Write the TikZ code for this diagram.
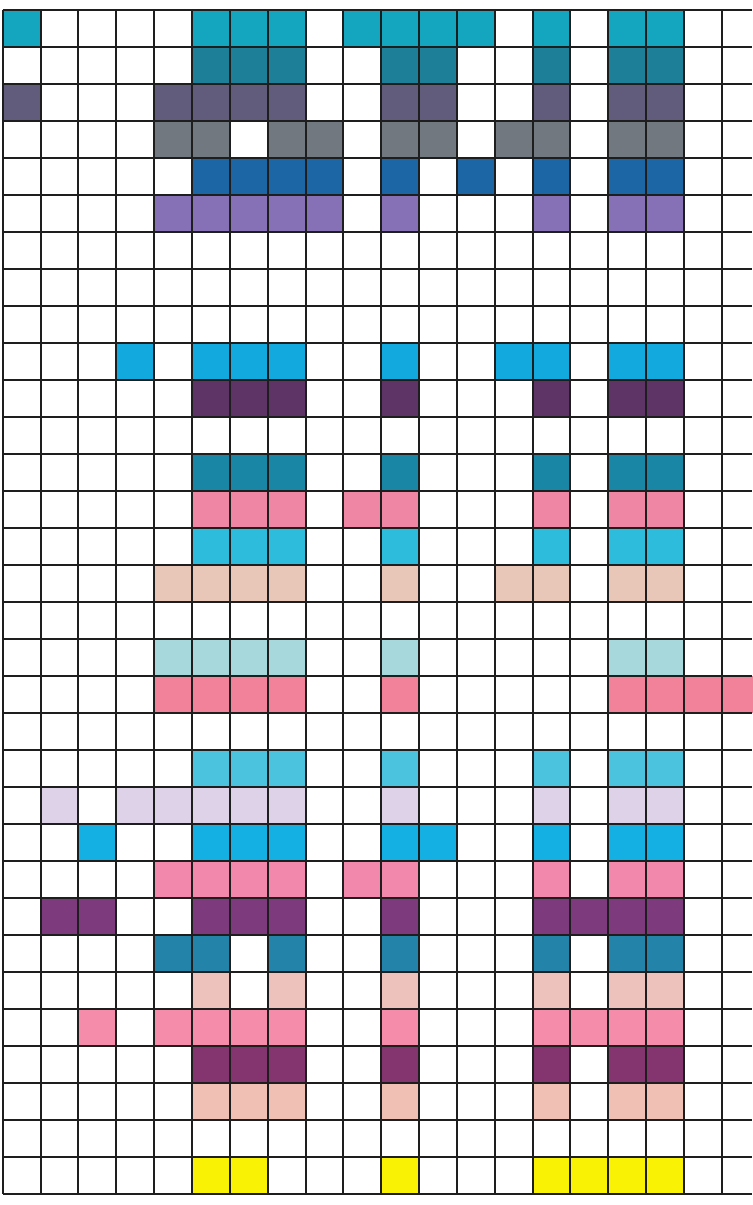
\documentclass[tikz,border=0pt]{standalone}
\definecolor{r0}{HTML}{14A6BE}
\definecolor{r1}{HTML}{1D8098}
\definecolor{r2}{HTML}{625C7C}
\definecolor{r3}{HTML}{717880}
\definecolor{r4}{HTML}{1D66A6}
\definecolor{r5}{HTML}{8670B6}
\definecolor{r9}{HTML}{12A9DE}
\definecolor{r10}{HTML}{5E3467}
\definecolor{r12}{HTML}{1A86A6}
\definecolor{r13}{HTML}{EE86A4}
\definecolor{r14}{HTML}{2EBCDC}
\definecolor{r15}{HTML}{E8C6B8}
\definecolor{r17}{HTML}{A6D8DC}
\definecolor{r18}{HTML}{F28299}
\definecolor{r20}{HTML}{4CC3DE}
\definecolor{r21}{HTML}{DED2E8}
\definecolor{r22}{HTML}{14B0E3}
\definecolor{r23}{HTML}{F289AC}
\definecolor{r24}{HTML}{7D3A7C}
\definecolor{r25}{HTML}{2483A8}
\definecolor{r26}{HTML}{EEC2BC}
\definecolor{r27}{HTML}{F48CAA}
\definecolor{r28}{HTML}{84346F}
\definecolor{r29}{HTML}{F0C0B4}
\definecolor{r31}{HTML}{FAF205}
\definecolor{gridline}{HTML}{1E1E1E}
\tikzset{gridrule/.style={draw=gridline, line width=1pt}}
\begin{document}
\begin{tikzpicture}[x=0.5pt,y=-0.5pt]
\useasboundingbox (0,0) rectangle (752,1205);
\fill[white] (0,0) rectangle (752,1205);
\foreach \r/\col/\list in {
  0/r0/{0,5,6,7,9,10,11,12,14,16,17},
  1/r1/{5,6,7,10,11,14,16,17},
  2/r2/{0,4,5,6,7,10,11,14,16,17},
  3/r3/{4,5,7,8,10,11,13,14,16,17},
  4/r4/{5,6,7,8,10,12,14,16,17},
  5/r5/{4,5,6,7,8,10,14,16,17},
  9/r9/{3,5,6,7,10,13,14,16,17},
  10/r10/{5,6,7,10,14,16,17},
  12/r12/{5,6,7,10,14,16,17},
  13/r13/{5,6,7,9,10,14,16,17},
  14/r14/{5,6,7,10,14,16,17},
  15/r15/{4,5,6,7,10,13,14,16,17},
  17/r17/{4,5,6,7,10,16,17},
  18/r18/{4,5,6,7,10,16,17,18,19},
  20/r20/{5,6,7,10,14,16,17},
  21/r21/{1,3,4,5,6,7,10,14,16,17},
  22/r22/{2,5,6,7,10,11,14,16,17},
  23/r23/{4,5,6,7,9,10,14,16,17},
  24/r24/{1,2,5,6,7,10,14,15,16,17},
  25/r25/{4,5,7,10,14,16,17},
  26/r26/{5,7,10,14,16,17},
  27/r27/{2,4,5,6,7,10,14,15,16,17},
  28/r28/{5,6,7,10,14,16,17},
  29/r29/{5,6,7,10,14,16,17},
  31/r31/{5,6,10,14,15,16,17}} {
  \foreach \c in \list {
    \fill[\col] (2.7+37.85*\c,10+37*\r) rectangle ++(37.85,37);
  }
}
\foreach \c in {0,...,19} {
  \draw[gridrule] (2.7+37.85*\c,10) -- (2.7+37.85*\c,1194);
}
\foreach \r in {0,...,32} {
  \draw[gridrule] (2.7,10+37*\r) -- (752,10+37*\r);
}
\end{tikzpicture}
\end{document}
